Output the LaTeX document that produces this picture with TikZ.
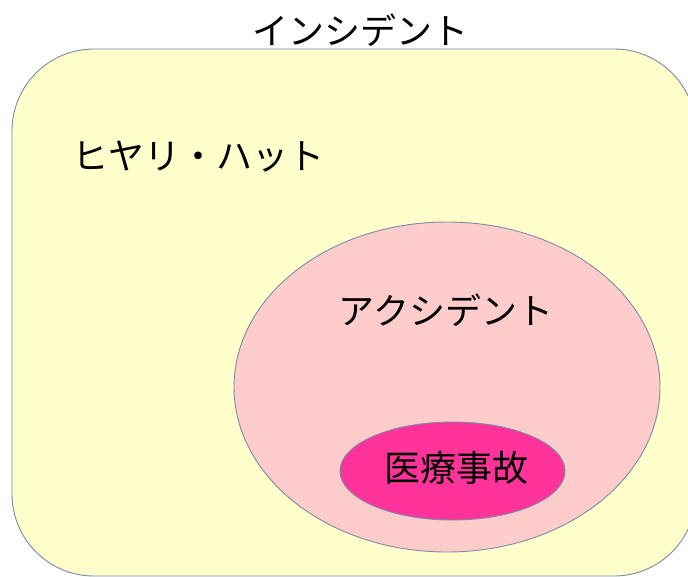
\documentclass[tikz,border=0pt]{standalone}
\usepackage{fontspec}
\setmainfont{Noto Sans CJK JP}
\usetikzlibrary{shapes.geometric}
\definecolor{areaY}{HTML}{FFFFCC}
\definecolor{areaP}{HTML}{FFCCCC}
\definecolor{areaM}{HTML}{FF3399}
\definecolor{edgeC}{HTML}{7A8BA6}
\tikzset{
  lbl/.style={font=\fontsize{36}{40}\selectfont, text=black, inner sep=0pt},
  setline/.style={draw=edgeC, line width=0.9pt}
}
\begin{document}
\begin{tikzpicture}[x=1pt,y=-1pt]
\useasboundingbox (0,0) rectangle (688,576);
\fill[white] (0,0) rectangle (688,576);
\draw[setline, fill=areaY, rounded corners=82pt] (12,49) rectangle (696,576);
\node[setline, fill=areaP, ellipse, minimum width=426pt, minimum height=330pt, inner sep=0pt] (acc) at (447,387) {};
\node[setline, fill=areaM, ellipse, minimum width=225pt, minimum height=98pt, inner sep=0pt] (med) at (452.5,471) {};
\node[lbl] (inc) at (360,30) {インシデント};
\node[lbl, anchor=west] (hiy) at (72,157) {ヒヤリ・ハット};
\node[lbl] (acct) at (446,310) {アクシデント};
\node[lbl] (medt) at (456,468) {医療事故};
\end{tikzpicture}
\end{document}
